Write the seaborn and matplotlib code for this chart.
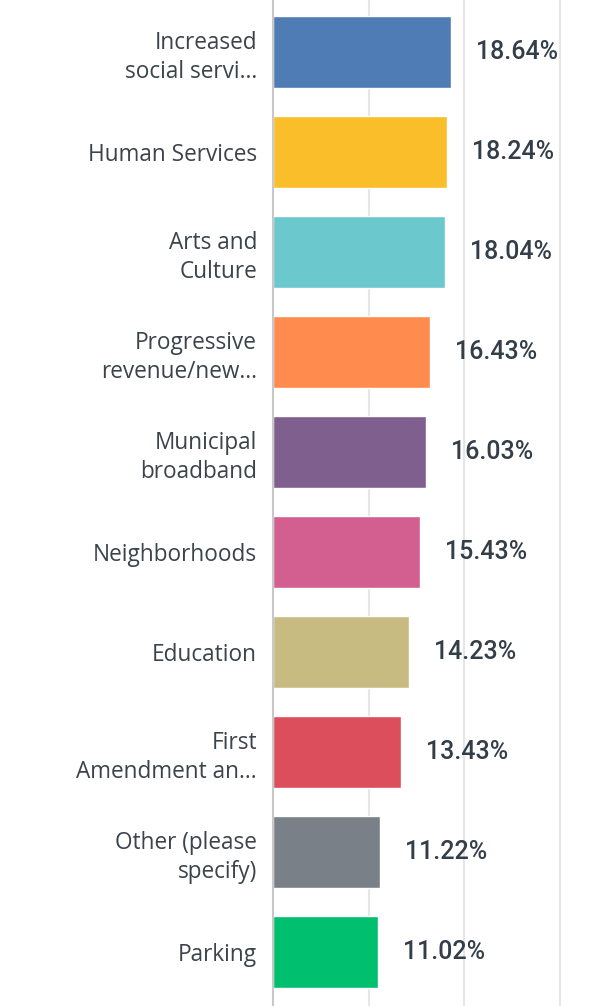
import matplotlib
matplotlib.use("Agg")
import matplotlib.pyplot as plt
import seaborn as sns
import pandas as pd

# survey answers and their share of respondents
categories = ["Increased\nsocial servi...", "Human Services", "Arts and\nCulture",
              "Progressive\nrevenue/new...", "Municipal\nbroadband", "Neighborhoods",
              "Education", "First\nAmendment an...", "Other (please\nspecify)", "Parking"]
percents = [18.64, 18.24, 18.04, 16.43, 16.03, 15.43, 14.23, 13.43, 11.22, 11.02]
colors = ["#507cb6", "#f9be2a", "#6bc8cc", "#ff8b4f", "#7f5f8e",
          "#d25f90", "#c8bb82", "#dc4e5c", "#7a8088", "#00bf6f"]

df = pd.DataFrame({"answer": categories, "pct": percents})

sns.set_style("white")
plt.rcParams["font.family"] = ["Open Sans", "DejaVu Sans"]

fig = plt.figure(figsize=(6.16, 10.06), dpi=100)
ax = fig.add_axes([273 / 616, 0, 1 - 273 / 616, 1])

sns.barplot(data=df, x="pct", y="answer", hue="answer", palette=colors,
            width=0.72, legend=False, ax=ax, saturation=1)

# percentage labels next to each bar
for cont, v in zip(ax.containers, percents):
    ax.bar_label(cont, labels=[f"{v:.2f}%"], padding=18, fontsize=18,
                 color="#333e48", family="Roboto", fontweight="medium")

ax.set_xlim(0, 35.9)
ax.set_ylim(9.54, -0.52)
ax.set_xticks([10, 20, 30])
ax.xaxis.grid(True, color="#e6e6e6", linewidth=1.5)
ax.set_axisbelow(True)
ax.set_xlabel("")
ax.set_ylabel("")
ax.tick_params(axis="x", bottom=False, labelbottom=False)
ax.tick_params(axis="y", left=False, pad=8, labelsize=16.3, labelcolor="#3b434b")
for lbl in ax.get_yticklabels():
    lbl.set_linespacing(1.25)

for side in ["top", "right", "bottom"]:
    ax.spines[side].set_visible(False)
ax.spines["left"].set_color("#c8c8c8")
ax.spines["left"].set_linewidth(1.5)

fig.savefig("out.png", dpi=100)
